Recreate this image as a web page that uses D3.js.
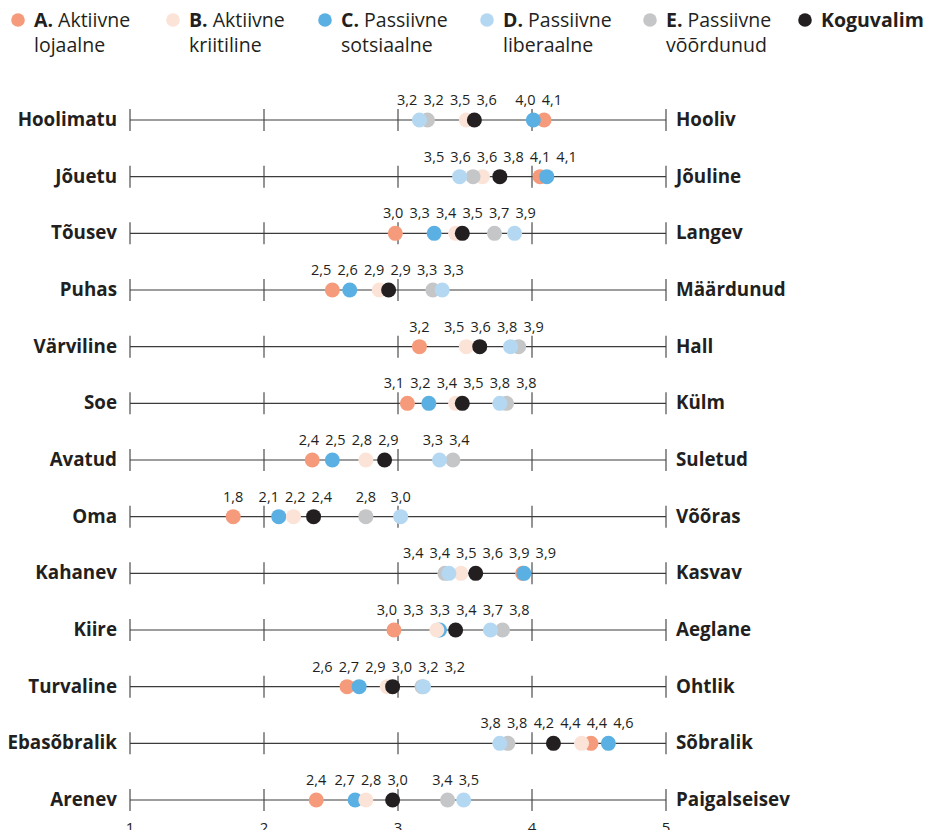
<!DOCTYPE html>
<html><head><meta charset="utf-8">
<script src="https://cdn.jsdelivr.net/npm/d3@7"></script>
<style>
html,body{margin:0;padding:0;background:#fff;}
svg{display:block;font-family:"Open Sans",sans-serif;}
</style></head>
<body><svg id="chart" width="931" height="830"></svg>
<script>
// ---- data ----
const leftLabels  = ["Hoolimatu","Jõuetu","Tõusev","Puhas","Värviline","Soe","Avatud","Oma","Kahanev","Kiire","Turvaline","Ebasõbralik","Arenev"];
const rightLabels = ["Hooliv","Jõuline","Langev","Määrdunud","Hall","Külm","Suletud","Võõras","Kasvav","Aeglane","Ohtlik","Sõbralik","Paigalseisev"];
const seriesA = [4.09,4.06,2.98,2.51,3.16,3.07,2.36,1.77,3.93,2.97,2.62,4.44,2.39]; // Aktiivne lojaalne
const seriesB = [3.51,3.63,3.43,2.86,3.51,3.43,2.76,2.22,3.47,3.29,2.92,4.37,2.76]; // Aktiivne kriitiline
const seriesC = [4.01,4.11,3.27,2.64,null,3.23,2.51,2.11,3.94,3.31,2.71,4.57,2.68]; // Passiivne sotsiaalne
const seriesD = [3.16,3.46,3.87,3.33,3.84,3.76,3.31,3.02,3.38,3.69,3.19,3.76,3.49]; // Passiivne liberaalne
const seriesE = [3.22,3.56,3.72,3.26,3.90,3.81,3.41,2.76,3.35,3.78,3.18,3.82,3.37]; // Passiivne võõrdunud
const seriesK = [3.57,3.76,3.48,2.93,3.61,3.48,2.90,2.37,3.58,3.43,2.96,4.16,2.96]; // Koguvalim
const axisTicks = [1,2,3,4,5];
const legendBold = ["A.","B.","C.","D.","E.","Koguvalim"];
const legendLine1 = ["Aktiivne","Aktiivne","Passiivne","Passiivne","Passiivne",""];
const legendLine2 = ["lojaalne","kriitiline","sotsiaalne","liberaalne","võõrdunud",""];

// ---- styles / layout ----
const colors = ["#f59b7c","#fce3d8","#5bb0e3","#b5d8f2","#c5c6c8","#231f20"];
const allSeries = [seriesA,seriesB,seriesC,seriesD,seriesE,seriesK];
const drawOrder = [0,2,1,4,3,5];
const legendX = [18,173,325,487,650,805];
const textColor = "#231f20";

const svg = d3.select("#chart");
const x = d3.scaleLinear().domain([1,5]).range([130,666]);
const y = d3.scalePoint().domain(d3.range(leftLabels.length)).range([120,800]);
const fmt = v => d3.format(".1f")(v).replace(".", ",");

// legend
const lg = svg.append("g");
legendBold.forEach((b,i)=>{
  const g = lg.append("g").attr("transform",`translate(${legendX[i]},0)`);
  g.append("circle").attr("cx",0).attr("cy",20).attr("r",6.8).attr("fill",colors[i]);
  const t = g.append("text").attr("x",16).attr("y",27).attr("font-size",19.5).attr("fill",textColor);
  t.append("tspan").attr("font-weight",700).text(b);
  if(legendLine1[i]) t.append("tspan").text(" "+legendLine1[i]);
  if(legendLine2[i]) g.append("text").attr("x",16).attr("y",52).attr("font-size",19.5).attr("fill",textColor).text(legendLine2[i]);
});

// rows
const rows = svg.append("g");
leftLabels.forEach((lab,r)=>{
  const yy = y(r);
  const g = rows.append("g");
  g.append("line").attr("x1",x(1)).attr("x2",x(5)).attr("y1",yy).attr("y2",yy)
    .attr("stroke","#3c3c3c").attr("stroke-width",1.1);
  axisTicks.forEach(t=>{
    g.append("line").attr("x1",x(t)).attr("x2",x(t)).attr("y1",yy-11).attr("y2",yy+11)
      .attr("stroke","#3c3c3c").attr("stroke-width",1.1);
  });
  g.append("text").attr("x",117).attr("y",yy+6).attr("text-anchor","end")
    .attr("font-size",18.8).attr("font-weight",700).attr("fill",textColor).text(lab);
  g.append("text").attr("x",676).attr("y",yy+6).attr("text-anchor","start")
    .attr("font-size",18.8).attr("font-weight",700).attr("fill",textColor).text(rightLabels[r]);

  // dots
  drawOrder.forEach(si=>{
    const v = allSeries[si][r];
    if(v==null) return;
    g.append("circle").attr("cx",x(v)).attr("cy",yy).attr("r",7.5).attr("fill",colors[si]);
  });

  // value labels, spread to avoid overlap
  const items = allSeries.map((s,si)=>({v:s[r],si})).filter(d=>d.v!=null)
    .sort((a,b)=>a.v-b.v);
  const gap = 26.5;
  let clusters = items.map(d=>({members:[d]}));
  const place = c => {
    const m = d3.mean(c.members,d=>x(d.v));
    c.start = m - (c.members.length-1)*gap/2;
    c.end = c.start + (c.members.length-1)*gap;
  };
  clusters.forEach(place);
  let merged = true;
  while(merged){
    merged = false;
    for(let i=0;i<clusters.length-1;i++){
      if(clusters[i+1].start - clusters[i].end < gap){
        clusters[i].members = clusters[i].members.concat(clusters[i+1].members);
        clusters.splice(i+1,1);
        place(clusters[i]);
        merged = true; break;
      }
    }
  }
  clusters.forEach(c=>{
    c.members.forEach((d,k)=>{
      g.append("text").attr("x",c.start+k*gap).attr("y",yy-15).attr("text-anchor","middle")
        .attr("font-size",14.5).attr("fill",textColor).text(fmt(d.v));
    });
  });
});

// bottom axis numbers (cut off at the bottom edge, as in the original)
svg.append("g").selectAll("text").data(axisTicks).join("text")
  .attr("x",d=>x(d)).attr("y",833).attr("text-anchor","middle")
  .attr("font-size",15).attr("fill",textColor).text(d=>d);
</script></body></html>
